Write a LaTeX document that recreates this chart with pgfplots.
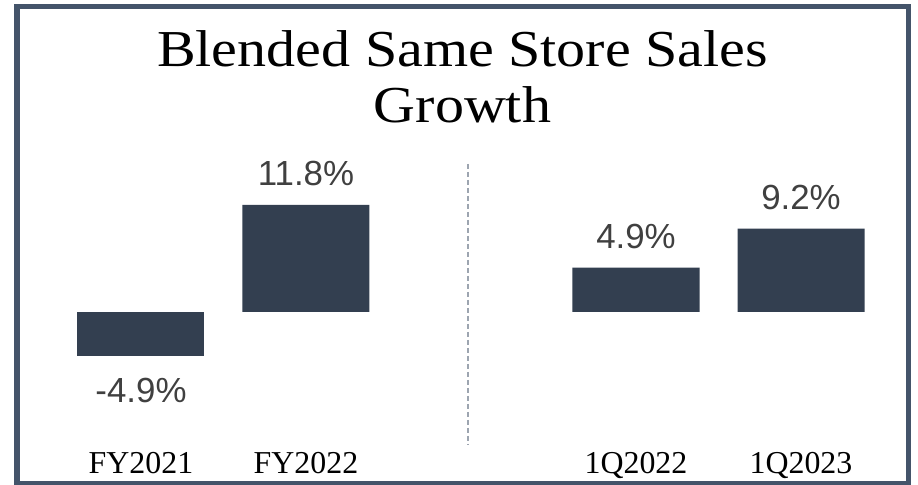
\documentclass[border=0pt]{standalone}
\usepackage{fontspec}
\setmainfont{Liberation Serif}
\newfontfamily\titlefont[FakeStretch=1.12]{Liberation Serif}
\newfontfamily\valfont{Liberation Sans}
\usepackage{pgfplots}
\pgfplotsset{compat=1.18}
\definecolor{barC}{HTML}{333F50}
\definecolor{frameC}{HTML}{44546A}
\definecolor{valC}{HTML}{404040}
\definecolor{dashC}{HTML}{9DA5B0}
\begin{document}
\begin{tikzpicture}
\fill[white] (0,0) rectangle (918bp,485bp);
\begin{axis}[
  at={(17bp,1.5bp)}, anchor=south west,
  scale only axis, width=891bp, height=476.5bp,
  xmin=-0.7515, xmax=4.6485, ymin=-18.91, ymax=33.63,
  axis line style={draw=frameC, line width=5bp},
  ytick=\empty,
  xtick={0,1,3,4},
  xticklabels={FY2021,FY2022,1Q2022,1Q2023},
  major tick length=0pt,
  tick style={draw=none},
  xticklabel style={anchor=base, yshift=10.5bp, inner sep=0pt, font=\fontsize{32}{36}\selectfont, text=black},
  /pgf/number format/assume math mode=true,
  title={Blended Same Store Sales\\Growth},
  title style={at={(0.5,1)}, anchor=north, yshift=-29.5bp, align=center, inner sep=0pt,
    font=\titlefont\fontsize{52}{56}\selectfont},
]
\addplot[ybar, bar width=127bp, bar shift=0pt, fill=barC, draw=none,
  nodes near coords={\pgfmathprintnumber[fixed,fixed zerofill,precision=1]{\pgfplotspointmeta}\%},
  every node near coord/.append style={font=\valfont\fontsize{35}{40}\selectfont, text=valC, anchor=south, inner sep=0pt, yshift=18.5bp}]
  coordinates {(1,11.8) (3,4.9) (4,9.2)};
\addplot[ybar, bar width=127bp, bar shift=0pt, fill=barC, draw=none,
  nodes near coords={\pgfmathprintnumber[fixed,fixed zerofill,precision=1]{\pgfplotspointmeta}\%},
  every node near coord/.append style={font=\valfont\fontsize{35}{40}\selectfont, text=valC, anchor=north, inner sep=0pt, yshift=-21.5bp}]
  coordinates {(0,-4.9)};
\addplot[draw=dashC, line width=1.3bp, dash pattern=on 5.5bp off 2.5bp, forget plot]
  coordinates {(1.982,16.32) (1.982,-14.66)};
\end{axis}
\pgfresetboundingbox
\useasboundingbox (0,0) rectangle (918bp,485bp);
\end{tikzpicture}
\end{document}
